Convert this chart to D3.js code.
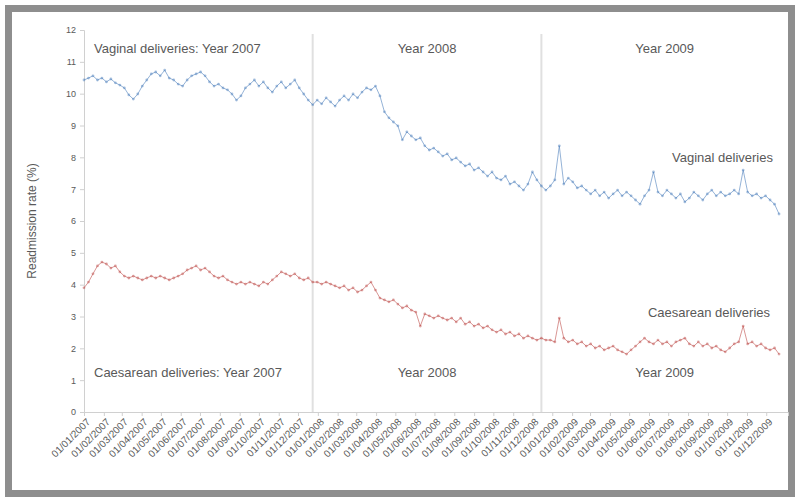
<!DOCTYPE html>
<html>
<head>
<meta charset="utf-8">
<script src="https://cdn.jsdelivr.net/npm/d3@7"></script>
<style>
  body { margin: 0; background: #fff; }
  text { font-family: Arial, "Liberation Sans", sans-serif; }
</style>
</head>
<body>
<svg id="chart" width="800" height="497"></svg>
<script>
// weekly series, first week starts 1 Jan 2007
var firstWeek = new Date(2007, 0, 1);

var vaginal2007 = [10.43,10.49,10.56,10.43,10.49,10.37,10.46,10.34,10.27,10.18,9.96,9.83,9.99,10.24,10.43,10.62,10.68,10.56,10.74,10.49,
  10.43,10.30,10.24,10.43,10.56,10.62,10.68,10.56,10.37,10.24,10.30,10.18,10.12,9.99,9.80,9.93,10.18,10.30,10.43,10.24,
  10.37,10.18,10.05,10.24,10.37,10.18,10.30,10.43,10.18,9.99,9.80,9.65];
var vaginal2008 = [9.80,9.68,9.87,9.74,9.61,9.80,9.93,9.80,9.99,9.87,10.05,10.18,10.12,10.24,9.93,9.43,9.24,9.11,8.99,8.55,
  8.80,8.67,8.55,8.61,8.36,8.23,8.29,8.17,8.04,8.11,7.92,7.98,7.85,7.73,7.79,7.60,7.67,7.54,7.41,7.54,
  7.35,7.29,7.41,7.16,7.23,7.10,6.97,7.16,7.54,7.29,7.10,6.97];
var vaginal2009 = [7.10,7.29,8.36,7.16,7.35,7.23,7.04,7.10,6.97,6.85,6.97,6.79,6.91,6.72,6.85,6.97,6.79,6.91,6.79,6.66,
  6.53,6.79,6.97,7.54,6.91,6.79,6.97,6.85,6.72,6.85,6.60,6.72,6.91,6.79,6.66,6.85,6.97,6.79,6.91,6.79,
  6.85,6.97,6.85,7.60,6.91,6.79,6.85,6.72,6.79,6.66,6.53,6.22];

var caesarean2007 = [3.90,4.08,4.34,4.59,4.71,4.65,4.52,4.59,4.40,4.27,4.21,4.27,4.21,4.15,4.21,4.27,4.21,4.27,4.21,4.15,
  4.21,4.27,4.34,4.46,4.52,4.59,4.46,4.52,4.40,4.27,4.21,4.27,4.15,4.08,4.02,4.08,4.02,4.08,4.02,3.96,
  4.08,4.02,4.15,4.27,4.40,4.34,4.27,4.34,4.21,4.15,4.21,4.08];
var caesarean2008 = [4.08,4.02,4.08,4.02,3.96,3.90,3.96,3.83,3.90,3.77,3.83,3.96,4.08,3.83,3.58,3.52,3.46,3.52,3.39,3.27,
  3.33,3.20,3.14,2.70,3.08,3.02,2.95,3.02,2.95,2.89,2.95,2.83,2.95,2.76,2.83,2.70,2.76,2.64,2.70,2.58,
  2.51,2.58,2.45,2.51,2.39,2.45,2.32,2.39,2.32,2.26,2.32,2.26];
var caesarean2009 = [2.26,2.20,2.95,2.32,2.20,2.26,2.14,2.20,2.07,2.14,2.01,2.07,1.95,2.01,2.07,1.95,1.89,1.82,1.95,2.07,
  2.20,2.32,2.20,2.14,2.26,2.14,2.20,2.07,2.20,2.26,2.32,2.14,2.07,2.20,2.07,2.14,2.01,2.07,1.95,1.89,
  2.01,2.14,2.20,2.70,2.14,2.20,2.07,2.14,2.01,1.95,2.01,1.82];

var periodBreaks = [new Date(2007, 11, 24), new Date(2008, 11, 15)];
var topLabels = ['Vaginal deliveries: Year 2007', 'Year 2008', 'Year 2009'];
var bottomLabels = ['Caesarean deliveries: Year 2007', 'Year 2008', 'Year 2009'];
var seriesNames = ['Vaginal deliveries', 'Caesarean deliveries'];
var yTicks = [0,1,2,3,4,5,6,7,8,9,10,11,12];
var yTitle = 'Readmission rate (%)';

function toWeeks(arr) {
  return arr.map(function(v, i) { return { date: d3.timeWeek.offset(firstWeek, i), value: v }; });
}
var vaginal = toWeeks(vaginal2007.concat(vaginal2008, vaginal2009));
var caesarean = toWeeks(caesarean2007.concat(caesarean2008, caesarean2009));

var svg = d3.select('#chart');
// plot box (named so they don't clash with window.top)
var plotL = 84, plotR = 788, plotT = 30, plotB = 412;

var x = d3.scaleTime()
  .domain([firstWeek, new Date(2010, 0, 4)])
  .range([plotL, plotR]);
var y = d3.scaleLinear().domain([0, 12]).range([plotB, plotT]);

// outer frame
svg.append('rect')
  .attr('x', 8.5).attr('y', 8.5)
  .attr('width', 783).attr('height', 485)
  .attr('fill', '#fff')
  .attr('stroke', '#8e8e8e')
  .attr('stroke-width', 7);

// period separators
svg.selectAll('line.sep')
  .data(periodBreaks)
  .enter().append('line')
  .attr('class', 'sep')
  .attr('x1', function(d) { return x(d); })
  .attr('x2', function(d) { return x(d); })
  .attr('y1', plotT + 4).attr('y2', plotB)
  .attr('stroke', '#e0e0e0')
  .attr('stroke-width', 2);

// y axis
var gy = svg.append('g')
  .attr('transform', 'translate(' + plotL + ',0)')
  .call(d3.axisLeft(y).tickValues(yTicks).tickSize(4).tickPadding(4));
gy.selectAll('path, line').attr('stroke', '#d0d0d0');
gy.selectAll('text').attr('fill', '#595959').style('font-size', '9px');

// x axis
var gx = svg.append('g')
  .attr('transform', 'translate(0,' + plotB + ')')
  .call(d3.axisBottom(x)
    .ticks(d3.timeMonth.every(1))
    .tickFormat(d3.timeFormat('%d/%m/%Y'))
    .tickSize(4));
gx.selectAll('path, line').attr('stroke', '#d0d0d0');
gx.selectAll('text')
  .attr('fill', '#595959')
  .style('font-size', '10px')
  .style('text-anchor', 'end')
  .attr('dx', '-0.3em')
  .attr('dy', '0.5em')
  .attr('transform', 'rotate(-45)');
gx.selectAll('.tick').filter(function(d) { return d > new Date(2009, 11, 31); }).remove();

// y title
svg.append('text')
  .attr('transform', 'translate(36,' + (plotT + plotB) / 2 + ') rotate(-90)')
  .attr('text-anchor', 'middle')
  .attr('fill', '#595959')
  .style('font-size', '12px')
  .text(yTitle);

// series
var line = d3.line()
  .x(function(d) { return x(d.date); })
  .y(function(d) { return y(d.value); });

var series = [
  { name: seriesNames[0], data: vaginal, color: '#4f81bd' },
  { name: seriesNames[1], data: caesarean, color: '#c0504d' }
];

series.forEach(function(s) {
  svg.append('path')
    .datum(s.data)
    .attr('fill', 'none')
    .attr('stroke', s.color)
    .attr('stroke-opacity', 0.6)
    .attr('stroke-width', 1)
    .attr('d', line);
  svg.append('g').selectAll('circle')
    .data(s.data)
    .enter().append('circle')
    .attr('cx', function(d) { return x(d.date); })
    .attr('cy', function(d) { return y(d.value); })
    .attr('r', 1.4)
    .attr('fill', s.color)
    .attr('fill-opacity', 0.5);
});

// period labels
var edges = [x.domain()[0]].concat(periodBreaks, [x.domain()[1]]);
function periodMid(i) { return (x(edges[i]) + x(edges[i + 1])) / 2; }

function periodLabels(labels, baseY) {
  labels.forEach(function(t, i) {
    svg.append('text')
      .attr('x', i === 0 ? plotL + 10 : periodMid(i))
      .attr('y', baseY)
      .attr('text-anchor', i === 0 ? 'start' : 'middle')
      .attr('fill', '#595959')
      .style('font-size', '13px')
      .text(t);
  });
}
periodLabels(topLabels, 53);
periodLabels(bottomLabels, 377);

// series labels on the right
svg.append('text')
  .attr('x', 773).attr('y', 162)
  .attr('text-anchor', 'end')
  .attr('fill', '#595959')
  .style('font-size', '13px')
  .text(seriesNames[0]);
svg.append('text')
  .attr('x', 770).attr('y', 317)
  .attr('text-anchor', 'end')
  .attr('fill', '#595959')
  .style('font-size', '13px')
  .text(seriesNames[1]);
</script>
</body>
</html>
